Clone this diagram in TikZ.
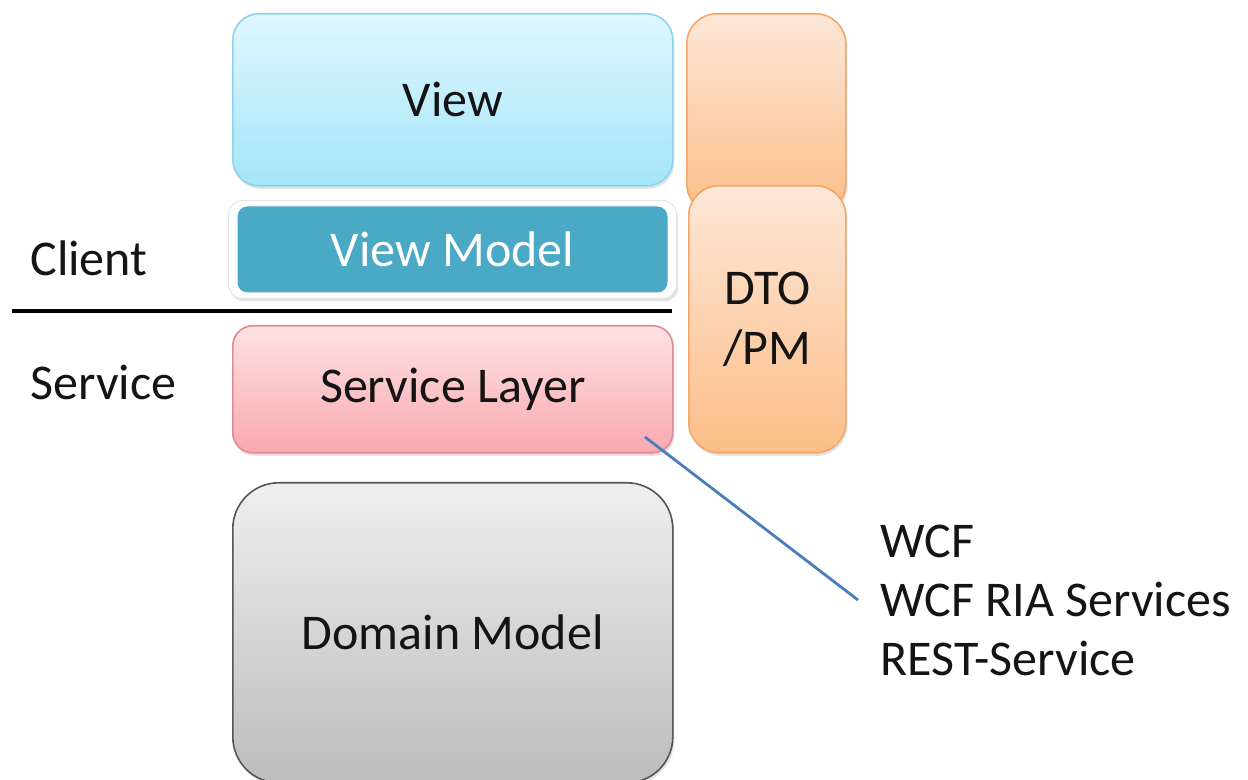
\documentclass[tikz,border=0pt]{standalone}
\usepackage{fontspec}
\setmainfont{Carlito}
\usetikzlibrary{shadows}
\definecolor{viewtop}{HTML}{E0F7FE}
\definecolor{viewbot}{HTML}{A3E5F8}
\definecolor{viewbd}{HTML}{8FD3EA}
\definecolor{vmfill}{HTML}{4AA9C4}
\definecolor{svctop}{HTML}{FDE2E4}
\definecolor{svcbot}{HTML}{F9A9AF}
\definecolor{svcbd}{HTML}{DE8C92}
\definecolor{domtop}{HTML}{EFEFEF}
\definecolor{dombot}{HTML}{BCBCBC}
\definecolor{dombd}{HTML}{555555}
\definecolor{ortop}{HTML}{FDE7D8}
\definecolor{orbot}{HTML}{FBBE88}
\definecolor{orbd}{HTML}{F4A768}
\definecolor{linkblue}{HTML}{4A7EBB}
\definecolor{txt}{HTML}{141414}
\tikzset{
  lay/.style={anchor=north west, inner sep=0pt, text=txt,
    font=\fontsize{25}{30}\selectfont,
    drop shadow={opacity=0.22, shadow xshift=0.8pt, shadow yshift=-1.5pt}},
  lbl/.style={inner sep=0pt, text=txt, font=\fontsize{25}{30}\selectfont}
}
\begin{document}
\begin{tikzpicture}[x=0.5pt,y=-0.5pt]
\useasboundingbox (0,0) rectangle (1248,780);
% orange DTO/PM columns
\node[lay, minimum width=79.5pt, minimum height=100pt, rounded corners=15pt,
  draw=orbd, line width=0.8pt, top color=ortop, bottom color=orbot] (dtoA) at (686,13) {};
\node[lay, minimum width=78.5pt, minimum height=133.5pt, rounded corners=15pt,
  draw=orbd, line width=0.8pt, top color=ortop, bottom color=orbot, align=center] (dto) at (688,185) {DTO\\/PM};
% view
\node[lay, minimum width=220pt, minimum height=86pt, rounded corners=13pt,
  draw=viewbd, line width=0.8pt, top color=viewtop, bottom color=viewbot] (view) at (232,13) {View};
% view model
\node[lay, minimum width=224pt, minimum height=49pt, rounded corners=7pt,
  fill=white, draw=black!10, line width=0.5pt] (vmo) at (228,200) {};
\node[inner sep=0pt, minimum width=215pt, minimum height=43pt, rounded corners=5pt,
  fill=vmfill, text=white, font=\fontsize{25}{30}\selectfont] (vm) at (vmo.center) {View Model};
% separator line
\coordinate (sepL) at (12,311);
\coordinate (sepR) at (672,311);
\draw[line width=2pt, black] (sepL) -- (sepR);
% service layer
\node[lay, minimum width=220pt, minimum height=63.5pt, rounded corners=10pt,
  draw=svcbd, line width=0.8pt, top color=svctop, bottom color=svcbot] (svc) at (232,325) {Service Layer};
% domain model
\node[lay, minimum width=220pt, minimum height=150pt, rounded corners=23pt,
  draw=dombd, line width=0.8pt, top color=domtop, bottom color=dombot] (dom) at (232,482) {Domain Model};
% side labels
\node[lbl, anchor=west] (client) at (30,258) {Client};
\node[lbl, anchor=west] (service) at (30,382) {Service};
% technologies
\node[anchor=west, inner xsep=11pt, inner ysep=0pt, align=left, text=txt,
  font=\fontsize{25}{29.5}\selectfont] (tech) at (858,600) {WCF\\WCF RIA Services\\REST-Service};
\coordinate (svcpt) at (645,437);
\draw[linkblue, line width=1.4pt] (svcpt) -- (tech.west);
\end{tikzpicture}
\end{document}
